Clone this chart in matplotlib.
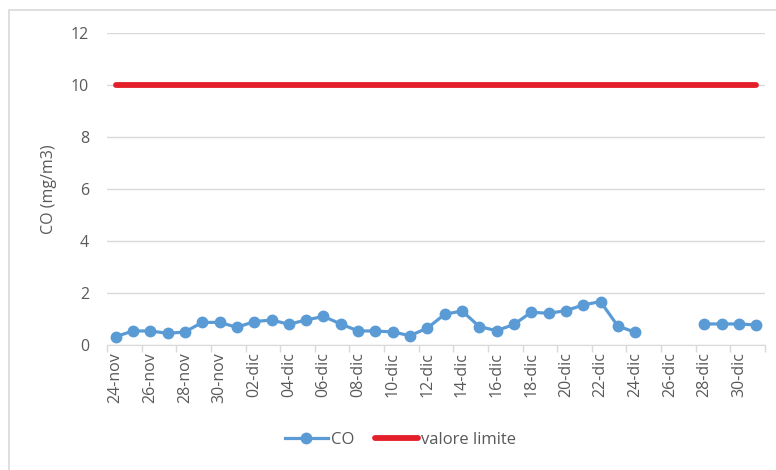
import numpy as np
import pandas as pd
import matplotlib
matplotlib.use("Agg")
import matplotlib.pyplot as plt
from matplotlib.patches import Rectangle

# daily CO values, 24-nov .. 31-dic (NaN = no data)
dates = pd.date_range("2023-11-24", "2023-12-31", freq="D")
co_values = [0.32, 0.54, 0.54, 0.45, 0.50, 0.87, 0.87,          # 24-30 nov
             0.68, 0.90, 0.96, 0.80, 0.96, 1.10, 0.81, 0.54,    # 01-08 dic
             0.54, 0.50, 0.36, 0.65, 1.18, 1.31, 0.71, 0.55,    # 09-16 dic
             0.79, 1.26, 1.22, 1.32, 1.54, 1.67, 0.73, 0.49,    # 17-24 dic
             np.nan, np.nan, np.nan, 0.81, 0.81, 0.81, 0.77]    # 25-31 dic
limit_value = [10] * len(dates)

month_names = {11: "nov", 12: "dic"}
tick_labels = [f"{d.day:02d}-{month_names[d.month]}" for d in dates]

plt.rcParams["font.family"] = ["Open Sans", "DejaVu Sans"]
text_color = "#595959"
grid_color = "#D9D9D9"
fs = 11.5

fig = plt.figure(figsize=(7.76, 4.70), dpi=100)
ax = fig.add_axes([107 / 776, 1 - 345 / 470, (765 - 107) / 776, (345 - 33) / 470])

# chart frame (top and left edges visible)
fig.patches.append(Rectangle((9 / 776, -0.1), 1.2, 1 - 10 / 470 + 0.1,
                             transform=fig.transFigure, fill=False,
                             edgecolor="#D9D9D9", linewidth=1.2))

x = np.arange(len(dates))
ax.plot(x, co_values, color="#5B9BD5", linewidth=2.3, marker="o",
        markersize=7.5, label="CO", zorder=3)
ax.plot(x, limit_value, color="#E3202A", linewidth=4.2,
        solid_capstyle="round", label="valore limite", zorder=2)

ax.set_xlim(-0.5, len(dates) - 0.5)
ax.set_ylim(0, 12)
ax.set_yticks(range(0, 13, 2))
ax.yaxis.grid(True, color=grid_color, linewidth=1)
ax.set_axisbelow(True)

ax.set_xticks(x[::2])
ax.set_xticklabels(tick_labels[::2], rotation=90)
ax.set_xticks(np.arange(-0.5, len(dates), 2), minor=True)
ax.tick_params(axis="x", which="major", length=0, pad=5, labelsize=fs,
               labelcolor=text_color)
ax.tick_params(axis="x", which="minor", length=5, color=grid_color, width=1)
ax.tick_params(axis="y", length=0, pad=13, labelsize=fs, labelcolor=text_color)

for s in ["top", "right", "left"]:
    ax.spines[s].set_visible(False)
ax.spines["bottom"].set_color(grid_color)

ax.set_ylabel("CO (mg/m3)", color=text_color, fontsize=fs, labelpad=10)

fig.legend(loc="center", bbox_to_anchor=(0.516, 1 - 440 / 470), ncol=2,
           frameon=False, fontsize=12, labelcolor=text_color,
           handlelength=2.6, handletextpad=0.2, columnspacing=1.2)

fig.savefig("out.png", dpi=100)
